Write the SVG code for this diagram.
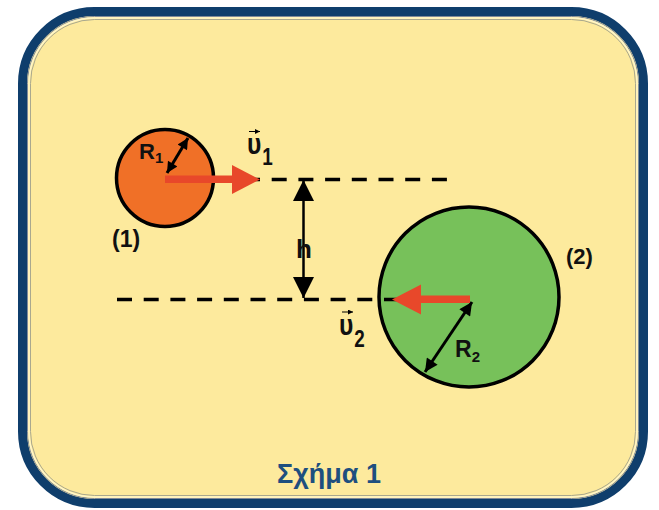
<svg xmlns="http://www.w3.org/2000/svg" width="659" height="510" viewBox="0 0 659 510">
<style>
.lbl{font-family:"Liberation Sans",Arial,sans-serif;font-weight:bold;fill:#111111}
.dash{stroke:#000000;stroke-width:3.5;stroke-dasharray:15 11.7;fill:none}
.red{fill:#e8482a}
.blk{stroke:#000000;fill:none}
</style>
<defs>
<marker id="hh" viewBox="0 0 10 10" refX="10" refY="5" markerWidth="21" markerHeight="21" markerUnits="userSpaceOnUse" orient="auto-start-reverse">
<path d="M0,0 L10,5 L0,10 Z" fill="#000000"/>
</marker>
<marker id="rh" viewBox="0 0 10 10" refX="10" refY="5" markerWidth="12" markerHeight="11" markerUnits="userSpaceOnUse" orient="auto-start-reverse">
<path d="M0,0 L10,5 L0,10 Z" fill="#000000"/>
</marker>
<marker id="rh2" viewBox="0 0 10 10" refX="10" refY="5" markerWidth="15" markerHeight="13" markerUnits="userSpaceOnUse" orient="auto-start-reverse">
<path d="M0,0 L10,5 L0,10 Z" fill="#000000"/>
</marker>
<marker id="vh" viewBox="0 0 10 10" refX="10" refY="5" markerWidth="5" markerHeight="5" markerUnits="userSpaceOnUse" orient="auto">
<path d="M0,0 L10,5 L0,10 Z" fill="#000000"/>
</marker>
</defs>
<rect width="659" height="510" fill="#ffffff"/>
<g id="frame">
<rect x="22.5" y="11.5" width="621" height="492" rx="72" fill="#fdea9d" stroke="#0f3e6c" stroke-width="9"/>
<rect x="27.5" y="16.5" width="611" height="482" rx="67" fill="none" stroke="#7f8a99" stroke-width="1"/>
<rect x="29" y="18" width="608" height="479" rx="65.5" fill="none" stroke="#fff6c8" stroke-width="1.5"/>
<rect x="30.5" y="19.5" width="605" height="476" rx="64" fill="none" stroke="#a9a88e" stroke-width="1"/>
</g>
<g id="ball2">
<circle cx="469" cy="297" r="90" fill="#77c15a" stroke="#000000" stroke-width="3.5"/>
</g>
<g id="ball1">
<circle cx="165" cy="178" r="48.5" fill="#f07027" stroke="#000000" stroke-width="3.5"/>
</g>
<g id="connectors">
<line class="dash" x1="245" y1="179.5" x2="449" y2="179.5"/>
<line class="dash" x1="117" y1="299.5" x2="399" y2="299.5"/>
<line class="blk" stroke-width="2.5" x1="303.5" y1="180" x2="303.5" y2="298" marker-start="url(#hh)" marker-end="url(#hh)"/>
<line class="blk" stroke-width="3" x1="167" y1="173" x2="188" y2="138" marker-start="url(#rh)" marker-end="url(#rh)"/>
<line class="blk" stroke-width="3" x1="472" y1="302" x2="425" y2="372" marker-start="url(#rh2)" marker-end="url(#rh2)"/>
<g id="v1">
<rect class="red" x="165" y="175.5" width="69" height="7.5"/>
<polygon class="red" points="232,165 260,179.5 232,194"/>
</g>
<g id="v2">
<rect class="red" x="419" y="295.5" width="51" height="7.5"/>
<polygon class="red" points="392,299.5 421,284.5 421,314.5"/>
</g>
<line class="blk" stroke-width="1" x1="249" y1="131.5" x2="260" y2="131.5" marker-end="url(#vh)"/>
<line class="blk" stroke-width="1" x1="342" y1="312" x2="353" y2="312" marker-end="url(#vh)"/>
</g>
<g id="labels">
<text class="lbl" x="139" y="159" font-size="22">R<tspan font-size="15" dy="4">1</tspan></text>
<text class="lbl" x="112" y="247" font-size="23">(1)</text>
<text class="lbl" x="566" y="264" font-size="22">(2)</text>
<text class="lbl" x="455" y="357" font-size="23">R<tspan font-size="15" dy="5">2</tspan></text>
<text class="lbl" x="304" y="258" font-size="26" text-anchor="middle">h</text>
<text class="lbl" transform="translate(247,154) scale(0.82,1)" font-size="30">υ<tspan font-size="23" dx="1" dy="11">1</tspan></text>
<text class="lbl" transform="translate(339,335) scale(0.82,1)" font-size="30">υ<tspan font-size="23" dx="1" dy="12">2</tspan></text>
<text x="329" y="483" font-size="27" text-anchor="middle" font-family="Liberation Sans, Arial, sans-serif" font-weight="bold" fill="#1e4f7f">Σχήμα 1</text>
</g>
</svg>
